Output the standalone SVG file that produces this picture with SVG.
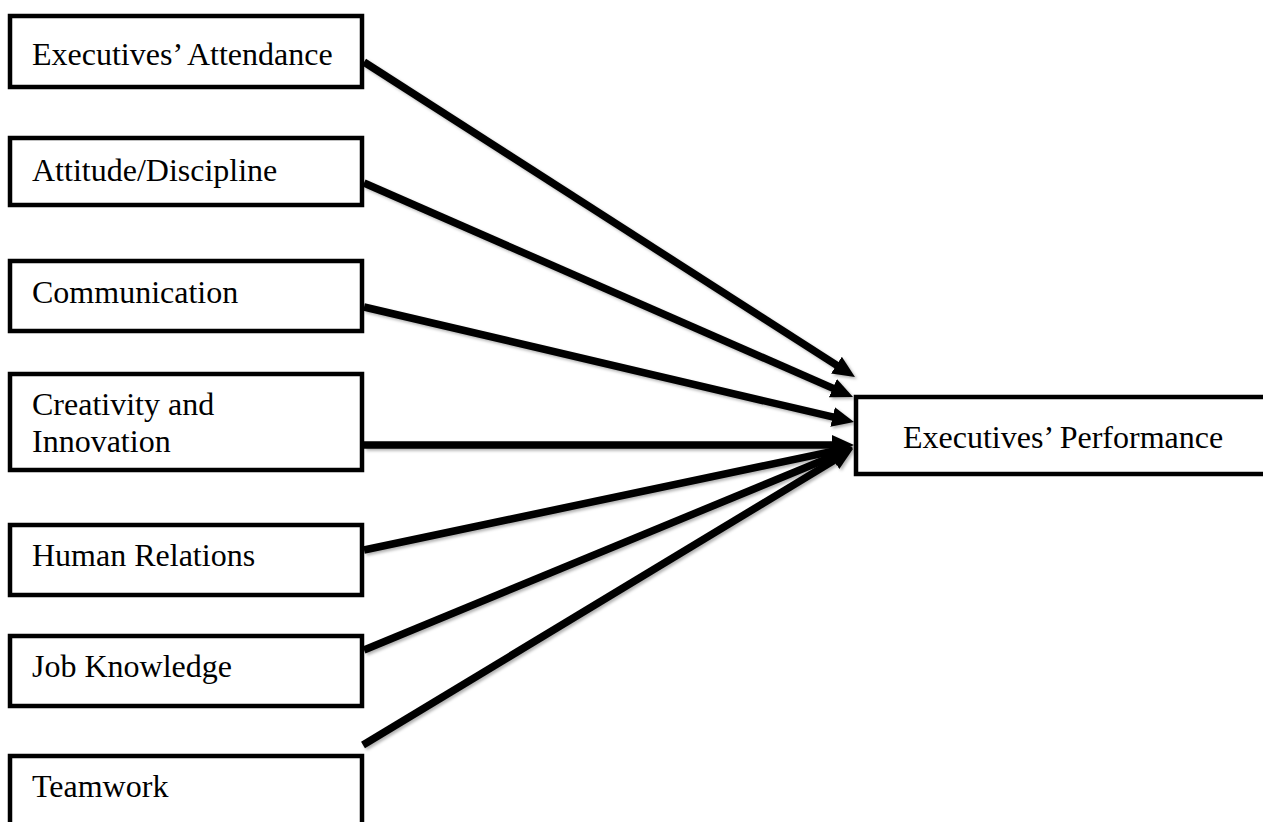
<svg xmlns="http://www.w3.org/2000/svg" width="1263" height="822" viewBox="0 0 1263 822">
  <style>
    .box { fill: #ffffff; stroke: #000000; stroke-width: 4.5; }
    .lbl { font-family: "Liberation Serif", "Times New Roman", serif; font-size: 32px; fill: #000000; }
    .conn { stroke: #000000; stroke-width: 7.5; fill: none; marker-end: url(#arrow); }
  </style>
  <defs>
    <marker id="arrow" viewBox="0 0 22 20" markerWidth="22" markerHeight="20" markerUnits="userSpaceOnUse" refX="1" refY="10" orient="auto">
      <path d="M0,0 L22,10 L0,20 z" fill="#000000"/>
    </marker>
    <filter id="shadow" x="-10%" y="-10%" width="120%" height="120%">
      <feDropShadow dx="2" dy="2" stdDeviation="1.5" flood-color="#000000" flood-opacity="0.3"/>
    </filter>
  </defs>
  <rect width="1263" height="822" fill="#ffffff"/>

  <g id="connectors" filter="url(#shadow)">
    <line class="conn" x1="364" y1="62" x2="837.3" y2="365.7"/>
    <line class="conn" x1="364" y1="183" x2="833.8" y2="388.6"/>
    <line class="conn" x1="364" y1="307" x2="833.6" y2="417.2"/>
    <line class="conn" x1="364" y1="445" x2="833" y2="445"/>
    <line class="conn" x1="364" y1="550" x2="832.4" y2="451.3"/>
    <line class="conn" x1="364" y1="650" x2="833.6" y2="456"/>
    <line class="conn" x1="363" y1="745" x2="835" y2="459.9"/>
  </g>

  <g id="node-attendance">
    <rect class="box" x="10" y="16" width="352" height="71"/>
    <text class="lbl" x="32" y="65">Executives’ Attendance</text>
  </g>
  <g id="node-attitude">
    <rect class="box" x="10" y="138" width="352" height="67"/>
    <text class="lbl" x="32" y="181">Attitude/Discipline</text>
  </g>
  <g id="node-communication">
    <rect class="box" x="10" y="261" width="352" height="70"/>
    <text class="lbl" x="32" y="303">Communication</text>
  </g>
  <g id="node-creativity">
    <rect class="box" x="10" y="374" width="352" height="96"/>
    <text class="lbl" x="32" y="415">Creativity and</text>
    <text class="lbl" x="32" y="452">Innovation</text>
  </g>
  <g id="node-human-relations">
    <rect class="box" x="10" y="525" width="352" height="70"/>
    <text class="lbl" x="32" y="566">Human Relations</text>
  </g>
  <g id="node-job-knowledge">
    <rect class="box" x="10" y="636" width="352" height="70"/>
    <text class="lbl" x="32" y="677">Job Knowledge</text>
  </g>
  <g id="node-teamwork">
    <rect class="box" x="10" y="756" width="352" height="90"/>
    <text class="lbl" x="32" y="797">Teamwork</text>
  </g>
  <g id="node-performance">
    <rect class="box" x="856" y="397" width="420" height="77"/>
    <text class="lbl" x="903" y="448">Executives’ Performance</text>
  </g>
</svg>
